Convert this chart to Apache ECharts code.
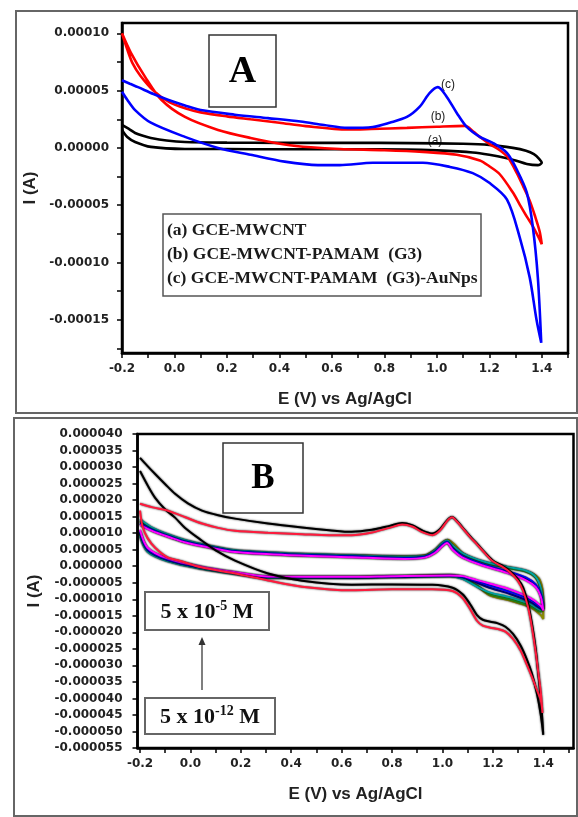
<!DOCTYPE html>
<html>
<head>
<meta charset="utf-8">
<script src="https://cdn.jsdelivr.net/npm/echarts@6.0.0/dist/echarts.min.js"></script>
<style>
html,body{margin:0;padding:0;background:#fff;}
#main{width:578px;height:817px;}
</style>
</head>
<body>
<div id="main"></div>
<script>
// ---- panel A : [E (V), I (A)] ----
var curveA_a = [[-0.2,2.0e-5],[-0.17,1.6e-5],[-0.15,1.3e-5],[-0.12,1.05e-5],[-0.09,0.87e-5],[-0.03,0.65e-5],[0.04,0.52e-5],[0.2,0.46e-5],[0.4,0.44e-5],[0.66,0.44e-5],[0.9,0.42e-5],[1.1,0.36e-5],[1.2,0.26e-5],[1.29,0.0],[1.34,-0.25e-5],[1.37,-0.55e-5],[1.39,-0.95e-5],[1.4,-1.3e-5],[1.385,-1.5e-5],[1.343,-1.4e-5],[1.3,-1.1e-5],[1.267,-0.9e-5],[1.2,-0.6e-5],[1.137,-0.4e-5],[1.0,-0.22e-5],[0.886,-0.14e-5],[0.66,-0.12e-5],[0.4,-0.12e-5],[0.2,-0.1e-5],[0.04,-0.09e-5],[-0.09,0.09e-5],[-0.15,0.52e-5],[-0.18,0.95e-5],[-0.2,1.57e-5]];
var curveA_b = [[-0.2,10.0e-5],[-0.18,8.6e-5],[-0.16,7.4e-5],[-0.13,6.3e-5],[-0.08,5.0e-5],[-0.02,4.0e-5],[0.05,3.4e-5],[0.1,3.1e-5],[0.2,2.75e-5],[0.29,2.5e-5],[0.4,2.2e-5],[0.5,1.9e-5],[0.66,1.6e-5],[0.75,1.65e-5],[0.886,1.75e-5],[1.0,1.85e-5],[1.107,1.92e-5],[1.14,1.4e-5],[1.164,0.96e-5],[1.2,0.35e-5],[1.24,-0.2e-5],[1.27,-0.8e-5],[1.305,-2.2e-5],[1.33,-3.4e-5],[1.354,-4.6e-5],[1.375,-6.0e-5],[1.392,-7.3e-5],[1.4,-8.4e-5],[1.39,-7.9e-5],[1.365,-6.8e-5],[1.343,-6.0e-5],[1.315,-4.9e-5],[1.29,-3.9e-5],[1.24,-2.3e-5],[1.2,-1.6e-5],[1.164,-1.1e-5],[1.076,-0.6e-5],[0.947,-0.35e-5],[0.8,-0.2e-5],[0.63,-0.1e-5],[0.52,0.05e-5],[0.42,0.3e-5],[0.29,0.87e-5],[0.166,1.57e-5],[0.04,2.7e-5],[-0.05,4.2e-5],[-0.112,6.2e-5],[-0.166,8.3e-5],[-0.2,10.0e-5]];
var curveA_c = [[-0.2,5.9e-5],[-0.17,5.6e-5],[-0.139,5.3e-5],[-0.08,4.7e-5],[-0.025,4.2e-5],[0.04,3.7e-5],[0.1,3.3e-5],[0.23,2.9e-5],[0.356,2.6e-5],[0.48,2.3e-5],[0.57,2.0e-5],[0.66,1.75e-5],[0.756,1.83e-5],[0.82,2.2e-5],[0.886,2.7e-5],[0.935,3.6e-5],[0.973,4.8e-5],[1.004,5.3e-5],[1.038,4.45e-5],[1.076,3.05e-5],[1.114,1.83e-5],[1.164,0.96e-5],[1.213,0.44e-5],[1.267,-0.44e-5],[1.305,-1.9e-5],[1.343,-3.9e-5],[1.366,-6.9e-5],[1.385,-11.3e-5],[1.398,-17.0e-5],[1.38,-15.0e-5],[1.354,-11.3e-5],[1.316,-7.8e-5],[1.267,-4.5e-5],[1.2,-3.05e-5],[1.137,-2.2e-5],[1.05,-1.66e-5],[0.947,-1.3e-5],[0.756,-1.3e-5],[0.63,-1.5e-5],[0.547,-1.5e-5],[0.42,-1.2e-5],[0.29,-0.6e-5],[0.166,0.0],[0.04,0.96e-5],[-0.09,2.2e-5],[-0.15,3.3e-5],[-0.18,4.2e-5],[-0.2,4.9e-5]];
var legendA = ['(a) GCE-MWCNT', '(b) GCE-MWCNT-PAMAM  (G3)', '(c) GCE-MWCNT-PAMAM  (G3)-AuNps'];

// ---- panel B : [E (V), I (A)] ----
var curveB_black = [[-0.2,32.8e-6],[-0.17,30.3e-6],[-0.14,27.9e-6],[-0.1,24.8e-6],[-0.061,21.9e-6],[-0.01,19.0e-6],[0.046,16.8e-6],[0.11,15.4e-6],[0.177,14.4e-6],[0.308,12.9e-6],[0.443,11.7e-6],[0.55,10.9e-6],[0.64,10.4e-6],[0.72,11.0e-6],[0.79,12.2e-6],[0.84,13.1e-6],[0.88,12.4e-6],[0.92,10.8e-6],[0.96,9.9e-6],[0.99,11.2e-6],[1.02,14.0e-6],[1.038,14.9e-6],[1.06,13.5e-6],[1.08,11.7e-6],[1.11,9.0e-6],[1.137,6.8e-6],[1.17,4.0e-6],[1.2,1.7e-6],[1.24,0.0],[1.268,-1.5e-6],[1.3,-4.0e-6],[1.32,-6.4e-6],[1.34,-11.5e-6],[1.355,-17.3e-6],[1.37,-25.0e-6],[1.38,-32.4e-6],[1.39,-40.0e-6],[1.397,-47.0e-6],[1.4,-51.0e-6],[1.39,-45.0e-6],[1.375,-38.6e-6],[1.355,-32.5e-6],[1.336,-28.4e-6],[1.31,-24.0e-6],[1.28,-20.5e-6],[1.25,-18.3e-6],[1.22,-17.3e-6],[1.19,-16.8e-6],[1.16,-16.2e-6],[1.137,-14.8e-6],[1.11,-11.5e-6],[1.08,-8.5e-6],[1.04,-6.5e-6],[0.96,-5.6e-6],[0.8,-5.5e-6],[0.64,-5.6e-6],[0.443,-4.4e-6],[0.308,-2.2e-6],[0.177,1.7e-6],[0.1,4.8e-6],[0.046,7.7e-6],[-0.02,11.5e-6],[-0.061,14.7e-6],[-0.1,17.2e-6],[-0.14,20.7e-6],[-0.17,24.5e-6],[-0.2,28.8e-6]];
var curveB_red = [[-0.2,18.9e-6],[-0.15,17.8e-6],[-0.089,16.8e-6],[-0.02,14.8e-6],[0.046,12.9e-6],[0.11,11.6e-6],[0.177,10.7e-6],[0.308,10.1e-6],[0.443,9.7e-6],[0.55,9.4e-6],[0.64,9.4e-6],[0.72,10.2e-6],[0.79,11.6e-6],[0.84,12.6e-6],[0.88,12.0e-6],[0.92,10.3e-6],[0.96,9.4e-6],[0.99,10.8e-6],[1.02,13.8e-6],[1.038,14.8e-6],[1.06,13.3e-6],[1.08,11.5e-6],[1.11,8.8e-6],[1.137,6.6e-6],[1.17,3.8e-6],[1.2,1.5e-6],[1.24,-0.3e-6],[1.268,-1.8e-6],[1.3,-4.5e-6],[1.32,-7.5e-6],[1.34,-12.5e-6],[1.355,-18.5e-6],[1.37,-26.0e-6],[1.38,-32.0e-6],[1.39,-38.0e-6],[1.397,-44.4e-6],[1.39,-40.5e-6],[1.375,-37.5e-6],[1.355,-33.5e-6],[1.336,-30.0e-6],[1.31,-25.5e-6],[1.28,-22.0e-6],[1.25,-19.8e-6],[1.22,-19.0e-6],[1.19,-18.6e-6],[1.16,-18.0e-6],[1.137,-16.5e-6],[1.11,-13.0e-6],[1.08,-9.6e-6],[1.04,-7.5e-6],[0.96,-7.0e-6],[0.8,-7.0e-6],[0.64,-7.3e-6],[0.443,-6.2e-6],[0.308,-4.3e-6],[0.177,-2.2e-6],[0.046,-0.4e-6],[-0.05,1.8e-6],[-0.089,2.6e-6],[-0.14,5.6e-6],[-0.17,8.5e-6],[-0.19,12.0e-6],[-0.2,16.8e-6]];
var curveB_green = [[-0.2,13.8e-6],[-0.15,11.3e-6],[-0.08,9.2e-6],[-0.02,7.7e-6],[0.08,6.0e-6],[0.177,4.7e-6],[0.375,3.8e-6],[0.64,3.2e-6],[0.85,2.8e-6],[0.93,3.0e-6],[0.97,4.6e-6],[1.0,6.8e-6],[1.018,7.7e-6],[1.04,6.0e-6],[1.08,3.6e-6],[1.16,1.2e-6],[1.256,-0.5e-6],[1.33,-1.6e-6],[1.37,-3.5e-6],[1.39,-7.0e-6],[1.4,-12.0e-6],[1.39,-13.8e-6],[1.348,-12.0e-6],[1.268,-10.0e-6],[1.19,-8.5e-6],[1.137,-5.8e-6],[1.08,-3.4e-6],[1.03,-2.8e-6],[0.8,-3.2e-6],[0.64,-3.4e-6],[0.308,-3.4e-6],[0.177,-2.2e-6],[0.046,-0.7e-6],[-0.089,1.7e-6],[-0.17,4.7e-6],[-0.2,9.8e-6]];
var curveB_blue = [[-0.2,13.0e-6],[-0.15,10.9e-6],[-0.08,8.9e-6],[-0.02,7.4e-6],[0.08,5.8e-6],[0.177,4.5e-6],[0.375,3.6e-6],[0.64,3.0e-6],[0.85,2.5e-6],[0.93,2.9e-6],[0.97,4.3e-6],[1.0,6.5e-6],[1.018,7.3e-6],[1.04,5.4e-6],[1.08,3.0e-6],[1.16,0.6e-6],[1.256,-1.5e-6],[1.33,-3.4e-6],[1.37,-5.5e-6],[1.39,-8.4e-6],[1.4,-12.8e-6],[1.39,-12.4e-6],[1.348,-10.2e-6],[1.268,-7.8e-6],[1.19,-5.9e-6],[1.137,-4.6e-6],[1.08,-3.2e-6],[1.03,-2.9e-6],[0.8,-3.1e-6],[0.64,-3.3e-6],[0.308,-3.2e-6],[0.177,-2.0e-6],[0.046,-0.4e-6],[-0.089,2.0e-6],[-0.17,5.2e-6],[-0.2,10.5e-6]];
var curveB_cyan = [[-0.2,14.2e-6],[-0.15,11.6e-6],[-0.08,9.4e-6],[-0.02,7.9e-6],[0.08,6.1e-6],[0.177,4.8e-6],[0.375,3.9e-6],[0.64,3.3e-6],[0.85,2.9e-6],[0.93,3.1e-6],[0.97,4.8e-6],[1.0,7.0e-6],[1.018,7.8e-6],[1.04,6.3e-6],[1.08,3.9e-6],[1.16,1.5e-6],[1.256,-0.2e-6],[1.33,-1.3e-6],[1.37,-3.2e-6],[1.39,-6.5e-6],[1.4,-11.5e-6],[1.39,-13.2e-6],[1.348,-11.4e-6],[1.268,-9.4e-6],[1.19,-8.0e-6],[1.137,-6.2e-6],[1.08,-3.8e-6],[1.03,-3.0e-6],[0.8,-3.3e-6],[0.64,-3.5e-6],[0.308,-3.5e-6],[0.177,-2.3e-6],[0.046,-0.8e-6],[-0.089,1.5e-6],[-0.17,4.4e-6],[-0.2,9.2e-6]];
var curveB_magenta = [[-0.2,12.5e-6],[-0.15,10.6e-6],[-0.08,8.7e-6],[-0.02,7.2e-6],[0.08,5.6e-6],[0.177,4.3e-6],[0.375,3.4e-6],[0.64,2.7e-6],[0.85,2.2e-6],[0.93,2.6e-6],[0.97,4.0e-6],[1.0,6.1e-6],[1.018,7.0e-6],[1.04,5.0e-6],[1.08,2.6e-6],[1.16,0.2e-6],[1.256,-2.0e-6],[1.33,-4.2e-6],[1.37,-6.3e-6],[1.39,-9.2e-6],[1.4,-13.4e-6],[1.39,-12.0e-6],[1.348,-9.6e-6],[1.268,-7.0e-6],[1.19,-5.3e-6],[1.137,-4.2e-6],[1.08,-3.0e-6],[1.03,-2.8e-6],[0.8,-3.0e-6],[0.64,-3.2e-6],[0.308,-3.1e-6],[0.177,-1.8e-6],[0.046,-0.2e-6],[-0.089,2.3e-6],[-0.17,5.6e-6],[-0.2,11.0e-6]];
var curveB_olive = [[-0.2,13.5e-6],[-0.15,11.1e-6],[-0.08,9.1e-6],[-0.02,7.6e-6],[0.08,5.9e-6],[0.177,4.6e-6],[0.375,3.8e-6],[0.64,3.3e-6],[0.85,3.0e-6],[0.93,3.3e-6],[0.97,5.0e-6],[1.0,7.2e-6],[1.02,8.0e-6],[1.045,6.8e-6],[1.08,4.0e-6],[1.16,1.4e-6],[1.268,-0.4e-6],[1.348,-1.9e-6],[1.387,-4.3e-6],[1.4,-10.4e-6],[1.4,-16.0e-6],[1.39,-14.8e-6],[1.348,-12.4e-6],[1.268,-10.4e-6],[1.19,-8.9e-6],[1.137,-6.0e-6],[1.08,-3.5e-6],[1.03,-2.7e-6],[0.8,-3.1e-6],[0.64,-3.3e-6],[0.308,-3.3e-6],[0.177,-2.1e-6],[0.046,-0.6e-6],[-0.089,1.8e-6],[-0.17,4.9e-6],[-0.2,9.5e-6]];
var curveB_navy = [[-0.2,12.8e-6],[-0.15,10.8e-6],[-0.08,8.8e-6],[-0.02,7.3e-6],[0.08,5.7e-6],[0.177,4.4e-6],[0.375,3.5e-6],[0.64,2.9e-6],[0.85,2.4e-6],[0.93,2.8e-6],[0.97,4.2e-6],[1.0,6.3e-6],[1.018,7.2e-6],[1.04,5.2e-6],[1.08,2.8e-6],[1.16,0.4e-6],[1.256,-1.8e-6],[1.33,-3.8e-6],[1.37,-5.9e-6],[1.39,-8.8e-6],[1.4,-13.0e-6],[1.39,-12.8e-6],[1.348,-10.8e-6],[1.268,-8.4e-6],[1.19,-6.6e-6],[1.137,-5.0e-6],[1.08,-3.3e-6],[1.03,-2.9e-6],[0.8,-3.2e-6],[0.64,-3.4e-6],[0.308,-3.3e-6],[0.177,-2.1e-6],[0.046,-0.5e-6],[-0.089,1.9e-6],[-0.17,5.0e-6],[-0.2,10.2e-6]];

// ---- axis ticks / labels ----
var xLabels = [-0.2, 0.0, 0.2, 0.4, 0.6, 0.8, 1.0, 1.2, 1.4];
var xTicks = [-0.2, -0.1, 0.0, 0.1, 0.2, 0.3, 0.4, 0.5, 0.6, 0.7, 0.8, 0.9, 1.0, 1.1, 1.2, 1.3, 1.4, 1.5];
var yLabelsA = [-0.00015, -0.00010, -0.00005, 0.0, 0.00005, 0.00010];
var yTicksA = [-0.000175, -0.00015, -0.000125, -0.00010, -0.000075, -0.00005, -0.000025, 0.0, 0.000025, 0.00005, 0.000075, 0.00010];
var yLabelsB = [-0.000055, -0.000050, -0.000045, -0.000040, -0.000035, -0.000030, -0.000025, -0.000020, -0.000015, -0.000010, -0.000005, 0.0, 0.000005, 0.000010, 0.000015, 0.000020, 0.000025, 0.000030, 0.000035, 0.000040];

var myChart = echarts.init(document.getElementById('main'));

var tickFont = { fontFamily: 'DejaVu Sans', fontWeight: 'bold', fontSize: 12, color: '#222' };
var nameFont = { fontFamily: 'Liberation Sans', fontWeight: 'bold', fontSize: 17, color: '#222' };

function xAxisOf(grid, min, max) {
    return {
        gridIndex: grid, type: 'value', min: min, max: max,
        name: 'E (V) vs Ag/AgCl', nameLocation: 'middle', nameGap: 38, nameTextStyle: nameFont,
        axisLine: { show: true, onZero: false, lineStyle: { color: '#000', width: 2.5 } },
        axisTick: { show: true, length: 5, customValues: xTicks, lineStyle: { color: '#000', width: 1.5 } },
        axisLabel: Object.assign({ customValues: xLabels, margin: 10, formatter: function (v) { return v.toFixed(1); } }, tickFont),
        splitLine: { show: false }
    };
}
function yAxisOf(grid, min, max, ticks, labels, digits, gap, margin) {
    return {
        gridIndex: grid, type: 'value', min: min, max: max,
        name: 'I (A)', nameLocation: 'middle', nameGap: gap, nameTextStyle: nameFont,
        axisLine: { show: true, onZero: false, lineStyle: { color: '#000', width: 2.5 } },
        axisTick: { show: true, length: 5, customValues: ticks, lineStyle: { color: '#000', width: 1.5 } },
        axisLabel: Object.assign({ customValues: labels, margin: margin, formatter: function (v) { return v.toFixed(digits); } }, tickFont),
        splitLine: { show: false }
    };
}
function loop(grid, data, color, width, shadow) {
    return {
        type: 'line', xAxisIndex: grid, yAxisIndex: grid, data: data,
        showSymbol: false, symbol: 'none', smooth: 0.3,
        lineStyle: shadow ? { color: color, width: width, shadowColor: 'rgba(0,0,0,0.8)', shadowBlur: 2 } : { color: color, width: width }
    };
}

var boxText = { fontFamily: 'Liberation Serif', fontWeight: 'bold' };
var supStyle = { fontSize: 14, verticalAlign: 'top', fontFamily: 'Liberation Serif', fontWeight: 'bold', fill: '#111' };

var options = {
    animation: false,
    backgroundColor: '#fff',
    grid: [
        { left: 122, top: 23, width: 446, height: 330, show: true, borderColor: '#000', borderWidth: 2.5, outerBoundsMode: 'none' },
        { left: 137.5, top: 434, width: 436, height: 314, show: true, borderColor: '#000', borderWidth: 2.5, outerBoundsMode: 'none' }
    ],
    xAxis: [xAxisOf(0, -0.2, 1.5), xAxisOf(1, -0.21, 1.52)],
    yAxis: [
        yAxisOf(0, -1.79e-4, 1.09e-4, yTicksA, yLabelsA, 5, 76, 13),
        yAxisOf(1, -0.000055, 0.00004, yLabelsB, yLabelsB, 6, 95, 15)
    ],
    series: [
        loop(0, curveA_a, '#000000', 2.6),
        loop(0, curveA_b, '#ff0000', 2.6),
        loop(0, curveA_c, '#0000ff', 2.6),
        loop(1, curveB_olive, '#8c8c00', 2, true),
        loop(1, curveB_green, '#1a8c1a', 2, true),
        loop(1, curveB_cyan, '#00a0a0', 2, true),
        loop(1, curveB_navy, '#000080', 2, true),
        loop(1, curveB_blue, '#0000ff', 2, true),
        loop(1, curveB_magenta, '#ff00ff', 2, true),
        loop(1, curveB_black, '#000000', 2, true),
        loop(1, curveB_red, '#ff1a3c', 2, true)
    ],
    graphic: [
        // outer panel frames
        { type: 'rect', z: -10, shape: { x: 16, y: 11, width: 561, height: 402 }, style: { fill: null, stroke: '#666', lineWidth: 2 } },
        { type: 'rect', z: -10, shape: { x: 14, y: 418, width: 563, height: 398 }, style: { fill: null, stroke: '#666', lineWidth: 2 } },
        // panel A label
        { type: 'rect', shape: { x: 209, y: 35, width: 67, height: 72 }, style: { fill: '#fff', stroke: '#333', lineWidth: 1.5 } },
        { type: 'text', x: 242.5, y: 72, style: Object.assign({ text: 'A', fontSize: 38, fill: '#000', align: 'center', verticalAlign: 'middle' }, boxText) },
        // panel A legend
        { type: 'rect', shape: { x: 163, y: 214, width: 318, height: 82 }, style: { fill: '#fff', stroke: '#555', lineWidth: 1.5 } },
        { type: 'text', x: 167, y: 230, style: Object.assign({ text: legendA[0], fontSize: 17.5, fill: '#1a1a1a', verticalAlign: 'middle' }, boxText) },
        { type: 'text', x: 167, y: 254, style: Object.assign({ text: legendA[1], fontSize: 17.5, fill: '#1a1a1a', verticalAlign: 'middle' }, boxText) },
        { type: 'text', x: 167, y: 278, style: Object.assign({ text: legendA[2], fontSize: 17.5, fill: '#1a1a1a', verticalAlign: 'middle' }, boxText) },
        // curve tags
        { type: 'text', x: 448, y: 85, style: { text: '(c)', fontFamily: 'Liberation Sans', fontSize: 12, fill: '#222', align: 'center', verticalAlign: 'middle' } },
        { type: 'text', x: 438, y: 117, style: { text: '(b)', fontFamily: 'Liberation Sans', fontSize: 12, fill: '#222', align: 'center', verticalAlign: 'middle' } },
        { type: 'text', x: 435, y: 141, style: { text: '(a)', fontFamily: 'Liberation Sans', fontSize: 12, fill: '#222', align: 'center', verticalAlign: 'middle' } },
        // panel B label
        { type: 'rect', shape: { x: 223, y: 443, width: 80, height: 70 }, style: { fill: '#fff', stroke: '#333', lineWidth: 1.5 } },
        { type: 'text', x: 263, y: 479, style: Object.assign({ text: 'B', fontSize: 35, fill: '#000', align: 'center', verticalAlign: 'middle' }, boxText) },
        // concentration boxes
        { type: 'rect', shape: { x: 145, y: 592, width: 124, height: 38 }, style: { fill: '#fff', stroke: '#666', lineWidth: 2 } },
        { type: 'text', x: 207, y: 612, style: Object.assign({ text: '5 x 10{sup|-5} M', fontSize: 22, fill: '#111', align: 'center', verticalAlign: 'middle', lineHeight: 26, rich: { sup: supStyle } }, boxText) },
        { type: 'rect', shape: { x: 145, y: 698, width: 130, height: 36 }, style: { fill: '#fff', stroke: '#666', lineWidth: 2 } },
        { type: 'text', x: 210, y: 717, style: Object.assign({ text: '5 x 10{sup|-12} M', fontSize: 22, fill: '#111', align: 'center', verticalAlign: 'middle', lineHeight: 26, rich: { sup: supStyle } }, boxText) },
        // arrow
        { type: 'line', shape: { x1: 202, y1: 690, x2: 202, y2: 643 }, style: { stroke: '#555', lineWidth: 1.5 } },
        { type: 'polygon', shape: { points: [[202, 637], [198.5, 645], [205.5, 645]] }, style: { fill: '#333' } }
    ]
};
myChart.setOption(options);
window.addEventListener('resize', function () { myChart.resize(); });
</script>
</body>
</html>
